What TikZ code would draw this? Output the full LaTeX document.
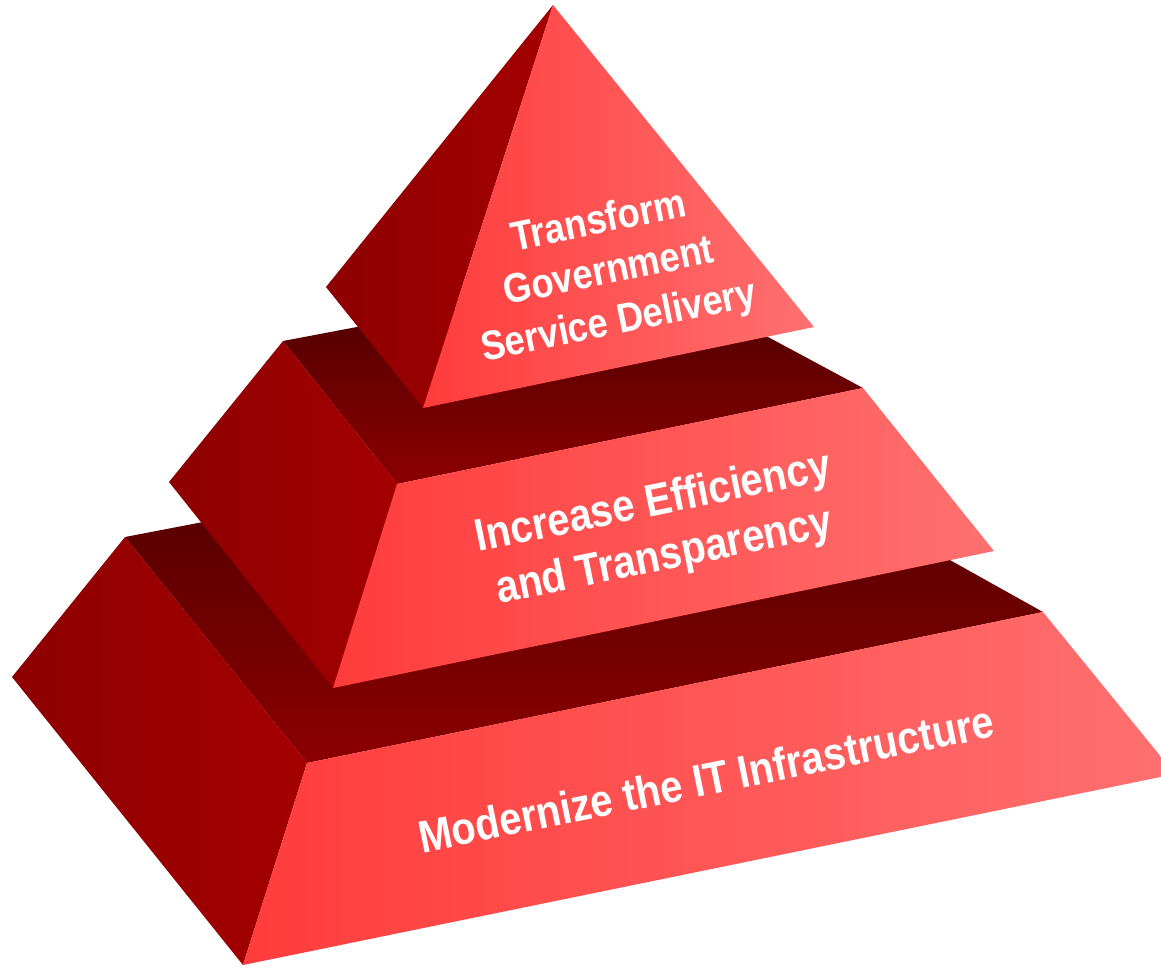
\documentclass[tikz,border=0pt]{standalone}
\usepackage{fontspec}
\newfontfamily\pyrfont{Liberation Sans}[FakeStretch=0.88]
\definecolor{sideL}{HTML}{8E0000}
\definecolor{sideR}{HTML}{A40000}
\definecolor{frontL}{HTML}{FF3C3C}
\definecolor{frontR}{HTML}{FF7070}
\definecolor{ledgeT}{HTML}{450000}
\definecolor{ledgeB}{HTML}{8C0000}

\begin{document}
\begin{tikzpicture}[x=0.5pt, y=-0.5pt,
    leftface/.style={left color=sideL, right color=sideR},
    frontface/.style={left color=frontL, right color=frontR},
    ledge/.style={top color=ledgeT, bottom color=ledgeB},
    tiertext/.style={text=white, rotate=11.5, align=center, inner sep=0pt}]
            \clip (0,0) rectangle (1161,966);
            % bottom tier
            \coordinate (lowL)  at (12,677);
            \coordinate (lowBL) at (125,537);
            \coordinate (lowBR) at (708,425);
            \coordinate (lowTL) at (307,763);
            \coordinate (lowTR) at (1043,612);
            \coordinate (lowFL) at (243,965);
            \coordinate (lowFR) at (1175,774);
            \shade [ledge] (lowBL) -- (lowBR) -- (lowTR) -- (lowTL) -- cycle;
            \shade [leftface] (lowL) -- (lowBL) -- (lowTL) -- (lowFL) -- cycle;
            \shade [frontface] (lowTL) -- (lowTR) -- (lowFR) -- (lowFL) -- cycle;
            % middle tier
            \coordinate (midL)  at (169,482);
            \coordinate (midBL) at (283,341);
            \coordinate (midBR) at (647,272);
            \coordinate (midTL) at (397,484);
            \coordinate (midTR) at (863,388);
            \coordinate (midFL) at (333,688);
            \coordinate (midFR) at (994,551);
            \shade [ledge] (midBL) -- (midBR) -- (midTR) -- (midTL) -- cycle;
            \shade [leftface] (midL) -- (midBL) -- (midTL) -- (midFL) -- cycle;
            \shade [frontface] (midTL) -- (midTR) -- (midFR) -- (midFL) -- cycle;
            % top tier
            \coordinate (apex) at (553,5);
            \coordinate (topL) at (326,287);
            \coordinate (topF) at (423,408);
            \coordinate (topR) at (814,327);
            \shade [leftface] (apex) -- (topL) -- (topF) -- cycle;
            \shade [frontface] (apex) -- (topF) -- (topR) -- cycle;

            \node [tiertext, font=\pyrfont\bfseries\fontsize{20.6}{25.5}\selectfont] (delivery) at (609,273) {Transform\\Government\\Service Delivery};
            \node [tiertext, font=\pyrfont\bfseries\fontsize{22.7}{27.5}\selectfont] (efficiency) at (659,531) {Increase Efficiency\\and Transparency};
            \node [tiertext, font=\pyrfont\bfseries\fontsize{22.7}{27.5}\selectfont] (infra) at (706,779) {Modernize the IT Infrastructure};

        \end{tikzpicture}
\end{document}
